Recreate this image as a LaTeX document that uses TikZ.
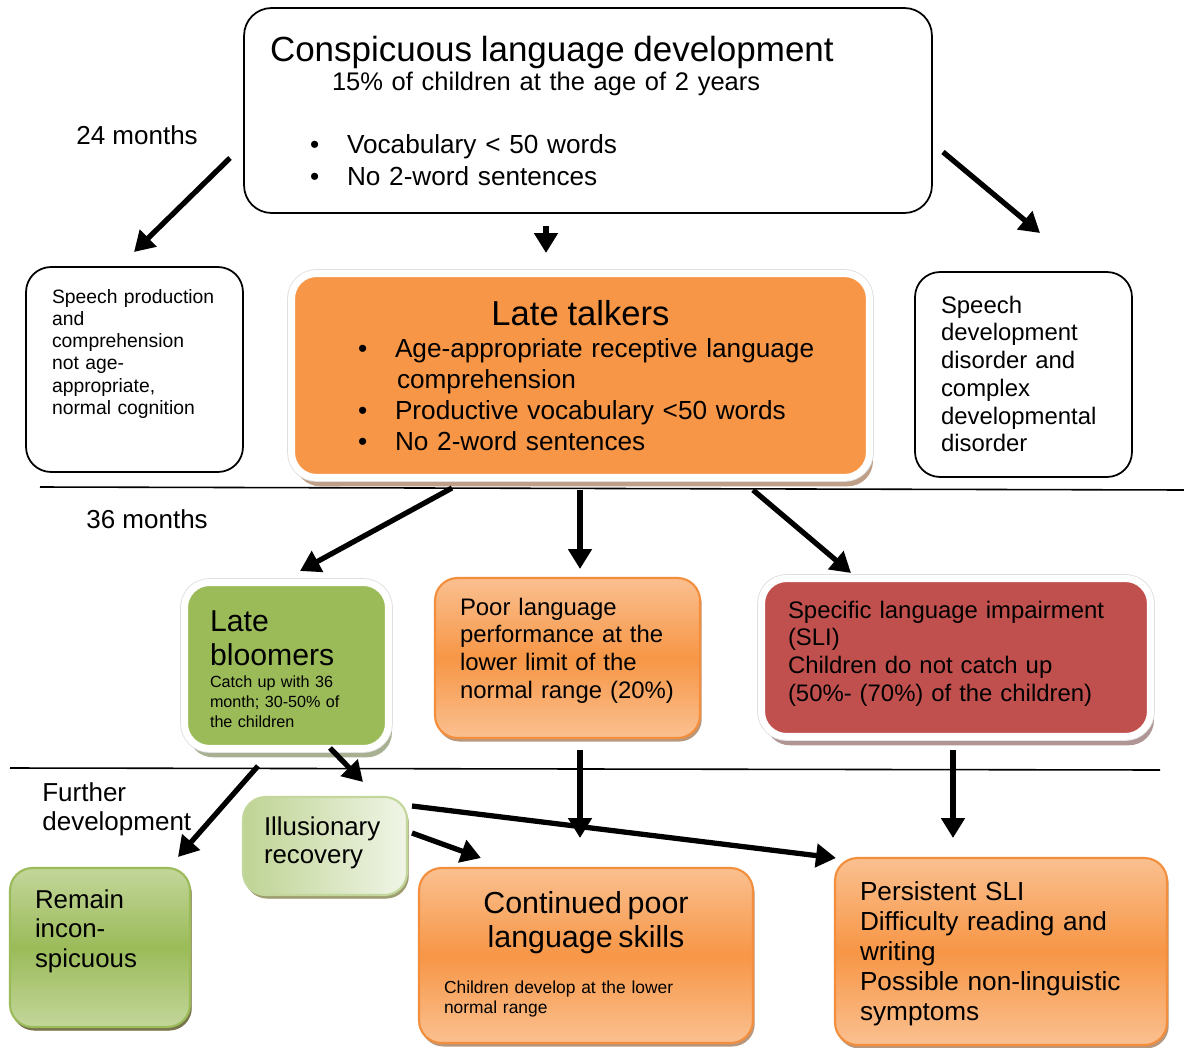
\documentclass[tikz,border=0pt]{standalone}
\usepackage{fontspec}
\setmainfont{Liberation Sans}
\usepackage{tikz}
\usetikzlibrary{arrows.meta,shadows}

\definecolor{orangemain}{HTML}{F79646}
\definecolor{orangepale}{HTML}{FAC090}
\definecolor{orangeline}{HTML}{F28E3C}
\definecolor{greenmain}{HTML}{9BBB59}
\definecolor{greenpale}{HTML}{C3D69B}
\definecolor{greenwash}{HTML}{F0F5E6}
\definecolor{redmain}{HTML}{C0504D}
\definecolor{talkshade}{HTML}{B8957A}
\definecolor{bloomshade}{HTML}{9DA985}
\definecolor{slishade}{HTML}{A88A8A}

\tikzset{
arr/.style={-{Triangle[length=4mm,width=4.6mm]}, line width=3pt}, % the thick black arrows
plainbox/.style={draw, line width=1pt, rounded corners=0.55cm, align=left, inner sep=0pt, text height=0pt},
halobox/.style={draw=white, line width=4pt, rounded corners=0.5cm, align=left, inner sep=0pt, text height=0pt,
  drop shadow={shadow xshift=2pt, shadow yshift=-5pt, fill=#1, opacity=0.9},
  preaction={draw=gray!25, line width=5pt}}, % white frame with a thin grey rim
gradbox/.style={draw=orangeline, line width=1.2pt, rounded corners=0.45cm, align=left, inner sep=0pt, text height=0pt,
  top color=orangepale, bottom color=orangepale, middle color=orangemain,
  drop shadow={shadow xshift=1pt, shadow yshift=-2pt, fill=orangemain!55!black, opacity=0.6}},
lbl/.style={inner sep=0pt, font=\fontsize{14.8}{17}\selectfont},
}

\begin{document}
\begin{tikzpicture}[x=0.02cm, y=-0.02cm]
\useasboundingbox (0,0) rectangle (1184,1048);

% time lines
\draw[line width=0.9pt] (40,487) -- (1184,490);
\draw[line width=0.9pt] (10,768) -- (1160,770);

% 24 months
\node[plainbox, minimum width=13.76cm, minimum height=4.1cm, text width=12.72cm, text depth=1.98cm,
  font=\fontsize{14.9}{17}\selectfont] (conspic) at (588,110.5)
  {{\fontsize{19.9}{24}\selectfont Conspicuous language development}\\
   \hspace*{1.24cm}{\fontsize{14.5}{17}\selectfont 15\% of children at the age of 2 years}\\[18.7pt]
   \hspace*{0.8cm}\makebox[0.74cm][l]{\textbullet}Vocabulary < 50 words\\[1.1pt]
   \hspace*{0.8cm}\makebox[0.74cm][l]{\textbullet}No 2-word sentences};
\node[plainbox, rounded corners=0.5cm, minimum width=4.34cm, minimum height=4.1cm, text width=3.3cm, text depth=2.66cm,
  font=\fontsize{11}{12.7}\selectfont] (normcog) at (134.5,369.5)
  {\mbox{Speech production}\\ and\\ comprehension\\ not age-\\ appropriate,\\ normal cognition};
\node[halobox=talkshade, fill=orangemain, minimum width=11.56cm, minimum height=4.08cm, text width=8.9cm, text depth=2.02cm,
  font=\fontsize{14.9}{17.6}\selectfont] (talkers) at (580.5,375.5)
  {{\centering\fontsize{19.7}{24}\selectfont Late talkers\par}
   \vspace{1.1pt}
   \mbox{\makebox[0.74cm][l]{\textbullet}Age-appropriate receptive language}\\
   \hspace*{0.78cm}comprehension\\
   \mbox{\makebox[0.74cm][l]{\textbullet}Productive vocabulary <50 words}\\
   \makebox[0.74cm][l]{\textbullet}No 2-word sentences};
\node[plainbox, rounded corners=0.5cm, minimum width=4.34cm, minimum height=4.1cm, text width=3.3cm, text depth=2.46cm,
  font=\fontsize{13.6}{15.8}\selectfont] (disorder) at (1023.5,374.5)
  {Speech\\ development\\ disorder and\\ complex\\ developmental\\ disorder};
\node[lbl, anchor=base west] (m24) at (76,144) {24 months};

% 36 months
\node[lbl, anchor=base west] (m36) at (86,528) {36 months};
\node[halobox=bloomshade, fill=greenmain, minimum width=4.08cm, minimum height=3.32cm, text width=3.06cm, text depth=1.38cm,
  font=\fontsize{9.2}{11.3}\selectfont] (bloomers) at (286.5,665.5)
  {{\fontsize{17.2}{19.8}\selectfont Late\\ bloomers\par}
   \vspace{1.2pt}
   Catch up with 36\\ \mbox{month; 30-50\% of}\\ the children};
\node[gradbox, minimum width=5.3cm, minimum height=3.2cm, text width=4.3cm, text depth=1.72cm,
  font=\fontsize{13.6}{15.9}\selectfont] (poor) at (567.5,658)
  {Poor language\\ \mbox{performance at the}\\ lower limit of the\\ \mbox{normal range (20\%)}};
\node[halobox=slishade, fill=redmain, minimum width=7.78cm, minimum height=3.16cm, text width=6.72cm, text depth=1.58cm,
  font=\fontsize{13.6}{15.9}\selectfont] (sli) at (956,657.5)
  {Specific language impairment\\ (SLI)\\ Children do not catch up\\ (50\%- (70\%) of the children)};

% further development
\node[lbl, anchor=base west, text width=3.5cm, align=left] (further) at (42,801) {Further\\development};
\node[gradbox, draw=greenpale, left color=greenpale!90!greenmain, right color=greenwash,
  drop shadow={shadow xshift=1pt, shadow yshift=-2pt, fill=greenmain!60!gray, opacity=0.6},
  minimum width=3.28cm, minimum height=1.96cm, text width=2.44cm, text depth=0.44cm,
  font=\fontsize{14.7}{16.5}\selectfont] (illusion) at (325,846)
  {Illusionary\\ recovery};
\node[gradbox, draw=greenmain, top color=greenpale, bottom color=greenpale, middle color=greenmain,
  drop shadow={shadow xshift=1pt, shadow yshift=-2pt, fill=greenmain!50!black, opacity=0.6},
  minimum width=3.6cm, minimum height=3.18cm, text width=2.6cm, text depth=1.58cm,
  font=\fontsize{14.7}{17}\selectfont] (remain) at (100,947.5)
  {Remain\\ incon-\\ spicuous};
\node[gradbox, minimum width=6.68cm, minimum height=3.5cm, text width=5.68cm, text depth=1.7cm,
  font=\fontsize{9.9}{11.3}\selectfont] (continued) at (586,955.5)
  {{\centering\fontsize{17.3}{19.8}\selectfont Continued poor\\ language skills\par}
   \vspace{14.7pt}
   Children develop at the lower\\ normal range};
\node[gradbox, minimum width=6.64cm, minimum height=3.74cm, text width=5.64cm, text depth=2.06cm,
  font=\fontsize{14.9}{17.2}\selectfont] (persist) at (1001,951.5)
  {Persistent SLI\\ Difficulty reading and\\ writing\\ \mbox{Possible non-linguistic}\\ symptoms};

% arrow ends
\coordinate (c1) at (230,158);   \coordinate (n1) at (134,252);
\coordinate (c2) at (546,226);   \coordinate (t2) at (546,253);
\coordinate (c3) at (943,152);   \coordinate (d3) at (1040,233);
\coordinate (t4) at (452,488);   \coordinate (b4) at (300,571);
\coordinate (t5) at (580,490);   \coordinate (p5) at (580,569);
\coordinate (t6) at (753,490);   \coordinate (s6) at (851,573);
\coordinate (b7) at (258,766);   \coordinate (r7) at (178,857);
\coordinate (b8) at (330,748);   \coordinate (i8) at (363,782);
\coordinate (p9) at (580,750);   \coordinate (c9) at (580,838);
\coordinate (s10) at (953,750);  \coordinate (p10) at (953,838);
\coordinate (i11) at (412,833);  \coordinate (c11) at (481,858);
\coordinate (i12) at (412,806);  \coordinate (p12) at (836,858);

\draw[arr] (c1) -- (n1);
\draw[arr] (c2) -- (t2);
\draw[arr] (c3) -- (d3);
\draw[arr] (t4) -- (b4);
\draw[arr] (t5) -- (p5);
\draw[arr] (t6) -- (s6);
\draw[arr] (b7) -- (r7);
\draw[arr] (b8) -- (i8);
\draw[arr] (p9) -- (c9);
\draw[arr] (s10) -- (p10);
\draw[arr] (i11) -- (c11);
\draw[arr] (i12) -- (p12);
\end{tikzpicture}
\end{document}
